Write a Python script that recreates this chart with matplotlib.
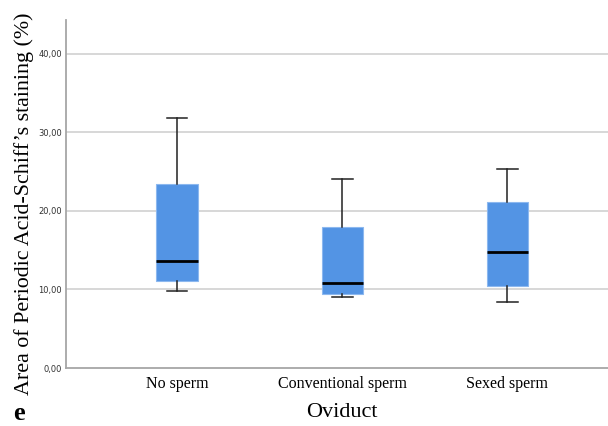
import matplotlib.pyplot as plt

groups = ["No sperm", "Conventional sperm", "Sexed sperm"]
whislo = [9.85, 9.08, 8.45]
q1 = [11.08, 9.43, 10.45]
med = [13.67, 10.83, 14.74]
q3 = [23.4, 18.0, 21.2]
whishi = [31.85, 24.1, 25.35]
yticks = [0, 10, 20, 30, 40]

stats = []
for i in range(len(groups)):
    stats.append({"whislo": whislo[i], "q1": q1[i], "med": med[i],
                  "q3": q3[i], "whishi": whishi[i], "fliers": []})

fig = plt.figure(figsize=(6.08, 4.26), dpi=100)
ax = fig.add_axes([0.1086, 0.136, 0.8914, 0.817])

for y in yticks[1:]:
    ax.axhline(y, color="#d4d4d4", lw=1.3, zorder=0)

ax.bxp(stats, positions=[1, 2, 3], widths=0.25, patch_artist=True,
       showfliers=False,
       boxprops=dict(facecolor="#5394e4", edgecolor="#8cb8ef", lw=0.8),
       medianprops=dict(color="black", lw=2),
       whiskerprops=dict(color="#222222", lw=1.1),
       capprops=dict(color="#222222", lw=1.1),
       capwidths=0.125, zorder=2)

ax.set_xlim(0.327, 3.61)
ax.set_ylim(0, 44.3)
ax.set_yticks(yticks)
ax.set_yticklabels(["%d,00" % v for v in yticks], fontsize=6, color="#333333")
ax.set_xticks([1, 2, 3])
ax.set_xticklabels(groups, family="Liberation Serif", fontsize=11.5)
ax.tick_params(axis="both", length=0)
ax.tick_params(axis="y", pad=3)
ax.tick_params(axis="x", pad=6)

for s in ["top", "right"]:
    ax.spines[s].set_visible(False)
for s in ["left", "bottom"]:
    ax.spines[s].set_color("#a6a6a6")
    ax.spines[s].set_linewidth(1.3)

fig.text(0.0403, 0.522, "Area of Periodic Acid-Schiff\u2019s staining (%)",
         family="Liberation Serif", fontsize=15.8, rotation=90,
         ha="center", va="center")
fig.text(0.563, 0.032, "Oviduct", family="Liberation Serif", fontsize=16,
         ha="center", va="center")
fig.text(0.031, 0.03, "e", family="Liberation Serif", fontsize=19,
         fontweight="bold", ha="center", va="center")

fig.savefig("out.png", dpi=100)
